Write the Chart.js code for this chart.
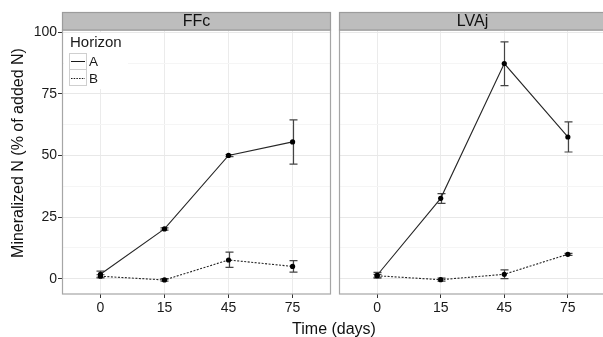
<!DOCTYPE html>
<html>
<head>
<meta charset="utf-8">
<script src="https://cdn.jsdelivr.net/npm/chart.js@4.4.1/dist/chart.umd.min.js"></script>
<style>
  body { margin: 0; width: 603px; height: 337px; overflow: hidden; position: relative; background: #fff; }
  .panel { position: absolute; top: 0; }
  #xtitle { position: absolute; left: 234px; width: 200px; top: 320px; text-align: center;
            font: 16px "Liberation Sans", Arial, sans-serif; line-height: 18px; color: #111; }
</style>
</head>
<body>
<div class="panel" style="left:0px"><canvas id="ffc" width="335" height="337"></canvas></div>
<div class="panel" style="left:335px"><canvas id="lvaj" width="275" height="337"></canvas></div>
<div id="xtitle">Time (days)</div>
<script>
// sampling days (discrete axis)
const days = ['0', '15', '45', '75'];
const yTicks = [0, 12.5, 25, 37.5, 50, 62.5, 75, 87.5, 100];

// FFc, horizon A / B : mean and error bar limits
const ffcA = [1.8, 20.2, 50.0, 55.5];
const ffcAlo = [0.6, 19.7, 49.5, 46.5];
const ffcAhi = [3.1, 20.6, 50.4, 64.4];
const ffcB = [1.0, -0.5, 7.6, 5.0];
const ffcBlo = [0.3, -1.0, 4.6, 2.7];
const ffcBhi = [1.6, 0.0, 10.8, 7.3];

// LVAj, horizon A / B
const lvaA = [1.4, 32.6, 87.3, 57.5];
const lvaAlo = [0.2, 30.6, 78.3, 51.4];
const lvaAhi = [2.6, 34.5, 96.1, 63.6];
const lvaB = [1.2, -0.4, 1.8, 9.9];
const lvaBlo = [0.6, -1.0, 0.0, 9.5];
const lvaBhi = [1.8, 0.2, 3.6, 10.3];

const FONT = '"Liberation Sans", Arial, sans-serif';

function pts(arr) {
  return arr.map((v, i) => ({x: i + 1, y: v}));
}

function lineSet(label, values, lo, hi, dashed) {
  return {
    label: label,
    data: pts(values),
    errLo: lo,
    errHi: hi,
    borderColor: '#262626',
    borderWidth: 1.1,
    borderDash: dashed ? [2, 1.5] : [],
    pointRadius: 2.6,
    pointBorderWidth: 0,
    pointBackgroundColor: '#000',
    tension: 0
  };
}

// strip header + panel border + error bars
const facetPlugin = {
  id: 'facet',
  beforeDatasetsDraw(chart, args, opts) {
    const ctx = chart.ctx;
    const x = chart.scales.x, y = chart.scales.y;
    ctx.save();
    ctx.strokeStyle = '#444';
    ctx.lineWidth = 1.2;
    chart.data.datasets.forEach(ds => {
      ds.data.forEach((p, i) => {
        const px = Math.round(x.getPixelForValue(p.x)) + 0.5;
        const y1 = y.getPixelForValue(ds.errLo[i]);
        const y2 = y.getPixelForValue(ds.errHi[i]);
        ctx.beginPath();
        ctx.moveTo(px, y1); ctx.lineTo(px, y2);
        ctx.moveTo(px - 4, y1); ctx.lineTo(px + 4, y1);
        ctx.moveTo(px - 4, y2); ctx.lineTo(px + 4, y2);
        ctx.stroke();
      });
    });
    ctx.restore();
  },
  afterDraw(chart, args, opts) {
    const ctx = chart.ctx;
    const a = chart.chartArea;
    ctx.save();
    // panel border
    ctx.strokeStyle = '#a6a6a6';
    ctx.lineWidth = 1.2;
    ctx.strokeRect(a.left + 0.5, a.top, a.right - a.left - 1, a.bottom - a.top);
    // strip
    ctx.fillStyle = '#bdbdbd';
    ctx.fillRect(a.left, 12, a.right - a.left, 18);
    ctx.strokeStyle = '#9c9c9c';
    ctx.strokeRect(a.left + 0.5, 12.5, a.right - a.left - 1, 17.5);
    ctx.fillStyle = '#111';
    ctx.font = '16px ' + FONT;
    ctx.textAlign = 'center';
    ctx.textBaseline = 'middle';
    ctx.fillText(opts.strip, (a.left + a.right) / 2, 21.5);

    if (opts.legend) {
      // y title
      ctx.save();
      ctx.translate(19, 153);
      ctx.rotate(-Math.PI / 2);
      ctx.font = '16px ' + FONT;
      ctx.fillStyle = '#111';
      ctx.fillText('Mineralized N (% of added N)', 0, 0);
      ctx.restore();

      // legend
      ctx.fillStyle = '#fff';
      ctx.fillRect(a.left + 2, a.top + 3, 64, 56);
      ctx.fillStyle = '#1a1a1a';
      ctx.textAlign = 'left';
      ctx.font = '15px ' + FONT;
      ctx.fillText('Horizon', 70, 43);
      ctx.font = '13.5px ' + FONT;
      ctx.strokeStyle = '#cfcfcf';
      ctx.lineWidth = 1;
      ctx.strokeRect(69.5, 53.5, 17, 16);
      ctx.strokeRect(69.5, 69.5, 17, 16);
      ctx.strokeStyle = '#1a1a1a';
      ctx.beginPath(); ctx.moveTo(71, 61.5); ctx.lineTo(85, 61.5); ctx.stroke();
      ctx.setLineDash([1.5, 1.2]);
      ctx.beginPath(); ctx.moveTo(71, 78.5); ctx.lineTo(85, 78.5); ctx.stroke();
      ctx.setLineDash([]);
      ctx.fillText('A', 89, 62);
      ctx.fillText('B', 89, 79);
    }
    ctx.restore();
  }
};

function makeChart(id, datasets, strip, first) {
  return new Chart(document.getElementById(id), {
    type: 'line',
    data: {datasets: datasets},
    plugins: [facetPlugin],
    options: {
      responsive: false,
      animation: false,
      layout: {padding: {top: 30, left: first ? 0 : 2, right: 3, bottom: 0}},
      plugins: {
        legend: {display: false},
        tooltip: {enabled: false},
        facet: {strip: strip, legend: first}
      },
      scales: {
        x: {
          type: 'linear',
          min: 0.4,
          max: 4.6,
          afterBuildTicks: s => { s.ticks = days.map((d, i) => ({value: i + 1})); },
          afterFit: s => { s.height = 43; },
          border: {display: false},
          grid: {color: '#ebebeb', lineWidth: 1, tickColor: '#333', tickLength: 4},
          ticks: {
            callback: (v, i) => days[i],
            color: '#1a1a1a',
            padding: 2,
            maxRotation: 0,
            font: {family: FONT, size: 14}
          }
        },
        y: {
          type: 'linear',
          min: -6.2,
          max: 100.9,
          afterBuildTicks: s => { s.ticks = yTicks.map(v => ({value: v})); },
          afterFit: s => { s.width = first ? 62 : 0; },
          border: {display: false},
          grid: {
            color: c => (c.tick && c.tick.value % 25 === 0) ? '#e8e8e8' : '#f5f5f5',
            lineWidth: 1,
            drawTicks: first,
            tickLength: 4,
            tickColor: c => (c.tick && c.tick.value % 25 === 0) ? '#333' : 'rgba(0,0,0,0)'
          },
          ticks: {
            display: first,
            callback: v => (v % 25 === 0 ? String(v) : ''),
            color: '#1a1a1a',
            padding: 1,
            font: {family: FONT, size: 14}
          }
        }
      }
    }
  });
}

makeChart('ffc', [
  lineSet('A', ffcA, ffcAlo, ffcAhi, false),
  lineSet('B', ffcB, ffcBlo, ffcBhi, true)
], 'FFc', true);

makeChart('lvaj', [
  lineSet('A', lvaA, lvaAlo, lvaAhi, false),
  lineSet('B', lvaB, lvaBlo, lvaBhi, true)
], 'LVAj', false);
</script>
</body>
</html>
